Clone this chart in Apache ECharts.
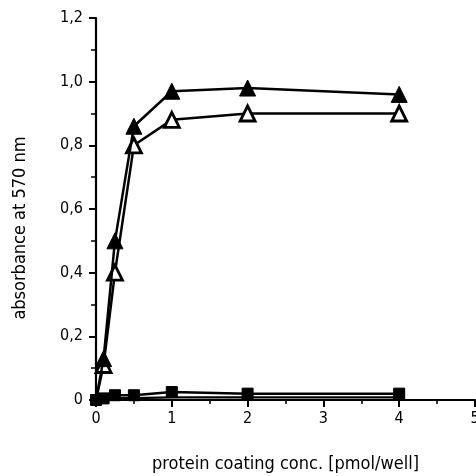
<!DOCTYPE html>
<html><head><meta charset="utf-8">
<script src="https://cdn.jsdelivr.net/npm/echarts@6/dist/echarts.min.js"></script>
<style>html,body{margin:0;padding:0;background:#fff}#c{width:476px;height:476px}</style>
</head><body><div id="c"></div>
<script>
const conc = [0, 0.1, 0.25, 0.5, 1, 2, 4];
const filledTriangle = [0, 0.13, 0.50, 0.86, 0.97, 0.98, 0.96];
const openTriangle   = [0, 0.11, 0.40, 0.80, 0.88, 0.90, 0.90];
const filledSquare   = [0, 0.005, 0.015, 0.015, 0.025, 0.02, 0.02];
const baseLine       = [0, 0.0, 0.006, 0.006, 0.008, 0.008, 0.008];
const xTicks = [0, 1, 2, 3, 4, 5];
const yTicks = [0, 0.2, 0.4, 0.6, 0.8, 1.0, 1.2];
const xTitle = 'protein coating conc. [pmol/well]';
const yTitle = 'absorbance at 570 nm';

const FONT = "'DejaVu Sans Condensed', 'Liberation Sans Narrow', sans-serif";
function pts(ys, hideFirst) {
  return conc.map((x, i) => {
    const d = { value: [x, ys[i]] };
    if (hideFirst && i === 0) d.symbol = 'none';
    return d;
  });
}
const chart = echarts.init(document.getElementById('c'), null, { renderer: 'canvas' });
chart.setOption({
  animation: false,
  backgroundColor: '#fff',
  grid: { left: 96, right: 1, top: 18, bottom: 76, containLabel: false, outerBoundsMode: 'none' },
  xAxis: {
    type: 'value', min: xTicks[0], max: xTicks[xTicks.length - 1], interval: 1,
    axisLine: { onZero: false, lineStyle: { color: '#000', width: 2.2 } },
    axisTick: { show: true, length: 7, lineStyle: { color: '#000', width: 2 } },
    minorTick: { show: true, splitNumber: 2, length: 4, lineStyle: { color: '#000', width: 1.5 } },
    splitLine: { show: false },
    axisLabel: { color: '#000', fontSize: 16, fontFamily: FONT, margin: 11 },
    name: xTitle, nameLocation: 'middle', nameGap: 55,
    nameTextStyle: { color: '#000', fontSize: 18, fontFamily: FONT }
  },
  yAxis: {
    type: 'value', min: yTicks[0], max: yTicks[yTicks.length - 1], interval: 0.2,
    axisLine: { onZero: false, lineStyle: { color: '#000', width: 2.2 } },
    axisTick: { show: true, length: 7, lineStyle: { color: '#000', width: 2 } },
    minorTick: { show: true, splitNumber: 2, length: 5, lineStyle: { color: '#000', width: 1.5 } },
    splitLine: { show: false },
    axisLabel: {
      color: '#000', fontSize: 16, fontFamily: FONT, margin: 13,
      formatter: v => v === 0 ? '0' : v.toFixed(1).replace('.', ',')
    }
  },
  graphic: [{
    type: 'text', x: 20, y: 228, rotation: Math.PI / 2,
    style: { text: yTitle, fill: '#000', fontSize: 18, fontFamily: FONT, textAlign: 'center', textVerticalAlign: 'middle' }
  }],
  series: [
    { type: 'line', data: pts(baseLine, false), symbol: 'none',
      lineStyle: { color: '#000', width: 2.2 }, z: 2 },
    { type: 'line', data: pts(filledSquare, false), symbol: 'rect', symbolSize: 11,
      lineStyle: { color: '#000', width: 2.5 }, itemStyle: { color: '#000', borderColor: '#000', borderWidth: 1 }, z: 3 },
    { type: 'line', data: pts(openTriangle, true), symbol: 'triangle', symbolSize: 15,
      lineStyle: { color: '#000', width: 2.5 }, itemStyle: { color: '#fff', borderColor: '#000', borderWidth: 2.8 }, z: 4 },
    { type: 'line', data: pts(filledTriangle, true), symbol: 'triangle', symbolSize: 16,
      lineStyle: { color: '#000', width: 2.5 }, itemStyle: { color: '#000', borderColor: '#000', borderWidth: 1 }, z: 5 }
  ]
});
</script></body></html>
